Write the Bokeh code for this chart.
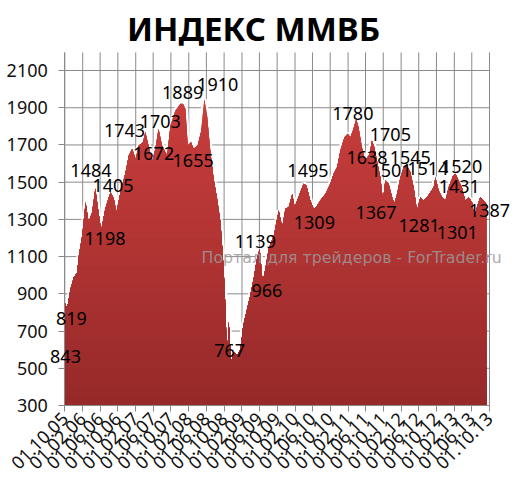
import math
import numpy as np
import pandas as pd
from bokeh.plotting import figure
from bokeh.models import (Range1d, FixedTicker, DatetimeTickFormatter, LabelSet,
                          Label, ColumnDataSource)
from bokeh.core.properties import value
from bokeh.embed import file_html
from bokeh.resources import INLINE

title_text = "ИНДЕКС ММВБ"
watermark_text = "Портал для трейдеров - ForTrader.ru"

# MICEX index
dates = [
    "2005-10-03", "2005-10-17", "2005-11-10", "2005-12-02", "2005-12-25",
    "2006-01-06", "2006-01-29", "2006-02-21", "2006-03-14", "2006-04-07",
    "2006-04-29", "2006-05-21", "2006-06-08", "2006-07-07", "2006-08-11",
    "2006-09-03", "2006-09-21", "2006-10-19", "2006-11-23", "2006-12-15",
    "2007-01-08", "2007-01-31", "2007-02-22", "2007-03-23", "2007-04-08",
    "2007-04-30", "2007-05-24", "2007-06-16", "2007-07-08", "2007-08-01",
    "2007-09-05", "2007-09-28", "2007-11-01", "2007-12-05", "2007-12-24",
    "2008-01-09", "2008-01-25", "2008-02-17", "2008-03-05", "2008-04-02",
    "2008-04-25", "2008-05-18", "2008-06-06", "2008-06-29", "2008-07-21",
    "2008-08-14", "2008-09-06", "2008-09-22", "2008-10-05", "2008-10-22",
    "2008-11-02", "2008-11-18", "2008-12-06", "2008-12-30", "2009-01-22",
    "2009-02-10", "2009-03-03", "2009-03-30", "2009-04-22", "2009-05-15",
    "2009-06-03", "2009-06-23", "2009-07-12", "2009-08-04", "2009-09-08",
    "2009-10-12", "2009-11-05", "2009-11-27", "2009-12-20", "2010-01-13",
    "2010-01-29", "2010-02-16", "2010-03-09", "2010-04-01", "2010-04-20",
    "2010-05-17", "2010-06-09", "2010-06-27", "2010-07-25", "2010-08-29",
    "2010-10-02", "2010-10-25", "2010-11-18", "2010-12-10", "2011-01-07",
    "2011-01-30", "2011-02-17", "2011-03-06", "2011-03-29", "2011-04-14",
    "2011-05-07", "2011-05-30", "2011-06-29", "2011-07-15", "2011-08-01",
    "2011-08-23", "2011-09-11", "2011-09-29", "2011-10-15", "2011-11-07",
    "2011-12-01", "2011-12-16", "2012-01-04", "2012-01-27", "2012-02-19",
    "2012-03-12", "2012-04-04", "2012-04-27", "2012-05-20", "2012-06-12",
    "2012-07-05", "2012-07-28", "2012-08-20", "2012-09-12", "2012-09-24",
    "2012-10-16", "2012-11-09", "2012-12-02", "2012-12-24", "2013-01-24",
    "2013-02-09", "2013-03-02", "2013-03-25", "2013-04-17", "2013-05-10",
    "2013-06-03", "2013-06-19", "2013-07-07", "2013-07-29", "2013-08-22",
    "2013-09-08",
]
values = [
    850, 821, 929, 988, 1015,
    1106, 1213, 1392, 1285, 1339,
    1466, 1339, 1240, 1358, 1446,
    1412, 1339, 1446, 1553, 1643,
    1679, 1625, 1697, 1715, 1769,
    1697, 1607, 1679, 1787, 1697,
    1643, 1804, 1885, 1921, 1921,
    1894, 1697, 1715, 1679, 1697,
    1769, 1945, 1858, 1661, 1518,
    1410, 1285, 1106, 927, 551,
    748, 533, 586, 569, 605,
    730, 801, 891, 981, 1088,
    1142, 962, 1034, 1142, 1213,
    1348, 1258, 1357, 1366, 1437,
    1366, 1401, 1446, 1491, 1482,
    1401, 1357, 1366, 1401, 1437,
    1491, 1545, 1581, 1670, 1742,
    1760, 1742, 1778, 1840, 1795,
    1688, 1616, 1652, 1724, 1688,
    1598, 1527, 1401, 1509, 1491,
    1419, 1384, 1437, 1527, 1581,
    1590, 1554, 1473, 1348, 1419,
    1401, 1419, 1446, 1473, 1527,
    1455, 1419, 1401, 1473, 1536,
    1545, 1509, 1473, 1401, 1419,
    1392, 1312, 1366, 1419, 1401,
    1384,
]

# data labels: text and where they sit
label_texts = ["843", "819", "1484", "1198", "1405", "1743", "1672", "1703",
               "1889", "1655", "1910", "767", "1139", "966", "1495", "1309",
               "1780", "1638", "1705", "1367", "1501", "1545", "1281", "1514",
               "1431", "1520", "1301", "1387"]
label_dates = ["2005-10-06", "2005-11-16", "2006-03-30", "2006-07-05", "2006-08-29",
               "2006-11-16", "2007-06-04", "2007-07-20", "2007-12-21", "2008-03-02",
               "2008-08-18", "2008-11-08", "2009-05-04", "2009-07-22", "2010-05-01",
               "2010-06-14", "2011-03-06", "2011-06-11", "2011-11-19", "2011-08-12",
               "2011-11-24", "2012-04-04", "2012-06-04", "2012-08-02", "2013-03-07",
               "2013-03-23", "2013-02-21", "2013-10-01"]
label_values = [562, 767, 1563, 1196, 1482, 1776, 1656, 1824, 1980, 1616,
                2023, 597, 1181, 918, 1561, 1283, 1869, 1633, 1758, 1337,
                1561, 1633, 1266, 1572, 1475, 1582, 1231, 1348]

tick_dates = ["2005-10-01", "2006-02-01", "2006-06-01", "2006-10-01", "2007-02-01",
              "2007-06-01", "2007-10-01", "2008-02-01", "2008-06-01", "2008-10-01",
              "2009-02-01", "2009-06-01", "2009-10-01", "2010-02-01", "2010-06-01",
              "2010-10-01", "2011-02-01", "2011-06-01", "2011-10-01", "2012-02-01",
              "2012-06-01", "2012-10-01", "2013-02-01", "2013-06-01", "2013-10-01"]
y_ticks = [300, 500, 700, 900, 1100, 1300, 1500, 1700, 1900, 2100]
y_min, y_top = 300, 2197          # extent of the plotting area

# ---- layout geometry (pixels) ----
W, H = 516, 490
AREA_BOTTOM = 405                 # y of the x axis in the canvas
AREA_LEFT, AREA_W = 64.3, 424.7   # plotting area inside the canvas

x = pd.to_datetime(dates)
vals = np.array(values, dtype=float)
tick_dt = pd.to_datetime(tick_dates)
tick_ms = [int(t.value // 10**6) for t in tick_dt]
x0, x1 = tick_ms[0], tick_ms[-1]
ms_px = (x1 - x0) / AREA_W
units_px = 1800.0 / 335.0

p = figure(width=W, height=H, x_axis_type="datetime",
           x_range=Range1d(x0 - AREA_LEFT * ms_px, x0 + (W - AREA_LEFT) * ms_px),
           y_range=Range1d(y_min - (H - AREA_BOTTOM) * units_px,
                           y_min + AREA_BOTTOM * units_px),
           output_backend="svg", toolbar_location=None,
           min_border_left=0, min_border_right=0,
           min_border_top=0, min_border_bottom=0)
p.outline_line_color = None
p.background_fill_color = "white"
p.border_fill_color = "white"
p.xgrid.visible = False
p.ygrid.visible = False

grid_col = "#8a8a8a"
# grid lines limited to the plotting area
p.segment(x0=tick_dt, y0=y_min, x1=tick_dt, y1=y_top, line_color=grid_col, line_width=1)
p.segment(x0=[tick_dt[0]] * len(y_ticks), y0=y_ticks,
          x1=[tick_dt[-1]] * len(y_ticks), y1=y_ticks, line_color=grid_col, line_width=1)

p.xaxis.ticker = FixedTicker(ticks=tick_ms)
p.yaxis.ticker = FixedTicker(ticks=y_ticks)
p.xaxis.bounds = (x0, x1)
p.yaxis.bounds = (y_min, y_top)
p.yaxis.fixed_location = x0
p.xaxis.fixed_location = y_min

fmt = "%d.%m.%y"
p.xaxis.formatter = DatetimeTickFormatter(
    microseconds=fmt, milliseconds=fmt, seconds=fmt, minsec=fmt, minutes=fmt,
    hourmin=fmt, hours=fmt, days=fmt, months=fmt, years=fmt)
p.xaxis.major_label_orientation = math.pi / 4

for ax in (p.xaxis, p.yaxis):
    ax.axis_line_color = grid_col
    ax.major_tick_line_color = grid_col
    ax.minor_tick_line_color = None
    ax.major_tick_in = 0
    ax.major_tick_out = 6
    ax.major_label_text_font = "Noto Sans"
    ax.major_label_text_font_size = "18px"
    ax.major_label_text_color = "#111111"
p.yaxis.major_label_standoff = 11
p.xaxis.major_label_standoff = 4

# soft white halo along the contour
p.line(x, vals, line_color="white", line_width=5, line_alpha=0.9)

# vertical gradient fill built from stacked bands
c_top = np.array([201, 62, 60])
c_bot = np.array([150, 41, 41])
def col(v):
    t = min(max((v - y_min) / (1950 - y_min), 0), 1)
    c = c_bot + (c_top - c_bot) * t
    return "#%02x%02x%02x" % tuple(int(round(k)) for k in c)

levels = np.linspace(y_min, 1950, 34)
p.varea(x=x, y1=y_min, y2=vals, fill_color=col(1950))
for k in range(len(levels) - 1, 0, -1):
    mid = (levels[k - 1] + levels[k]) / 2
    p.varea(x=x, y1=y_min, y2=np.minimum(vals, levels[k]), fill_color=col(mid))

src = ColumnDataSource(dict(x=pd.to_datetime(label_dates), y=label_values, text=label_texts))
p.add_layout(LabelSet(x="x", y="y", text="text", source=src,
                      text_font=value("Noto Sans"), text_font_size="18px",
                      text_align="center", text_baseline="middle",
                      text_color="#000000"))

p.add_layout(Label(x=253, y=H - 27.5, x_units="screen", y_units="screen",
                   text=title_text, text_font="Noto Sans", text_font_style="bold",
                   text_font_size="33px", text_align="center", text_baseline="middle",
                   text_color="#000000"))
p.add_layout(Label(x=201, y=H - 256.5, x_units="screen", y_units="screen",
                   text=watermark_text, text_font="DejaVu Sans", text_font_size="15.8px",
                   text_align="left", text_baseline="middle",
                   text_color="#9a9a9a", text_alpha=0.85))

open("out.html", "w").write(file_html(p, INLINE))
